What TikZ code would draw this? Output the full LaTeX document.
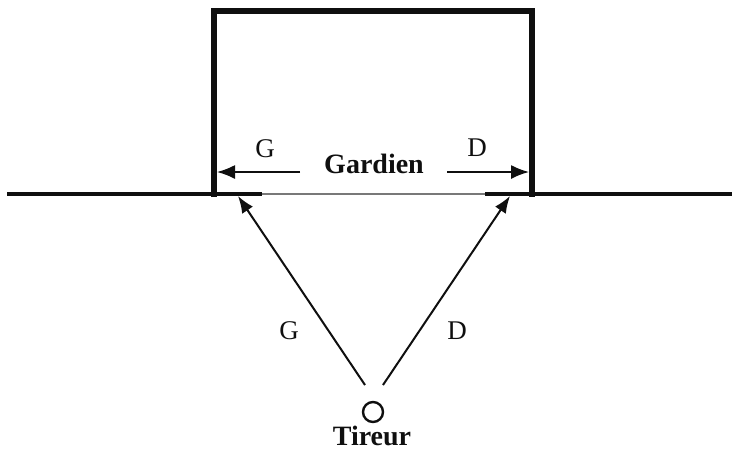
\documentclass[tikz,border=0pt]{standalone}
\usepackage{fontspec}
\setmainfont{Liberation Serif}
\usetikzlibrary{arrows.meta}
\definecolor{inkline}{RGB}{15,15,15}
\definecolor{mouthline}{RGB}{120,120,120}

\begin{document}
\begin{tikzpicture}[
  x=1pt, y=-1pt,
  font=\fontsize{27}{30}\selectfont,
  goal/.style={                             % posts and crossbar
    draw=inkline, line width=5.5pt, line cap=rect, line join=miter
  },
  ground/.style={draw=inkline, line width=3.3pt},
  mouth/.style={draw=mouthline, line width=1.3pt},
  shot/.style={
    draw=inkline, line width=2pt,
    -{Latex[length=17pt,width=13pt]}
  },
  dive/.style={
    draw=inkline, line width=1.6pt,
    -{Latex[length=18pt,width=14pt]}
  },
  lab/.style={inner sep=0pt, text=inkline},
  title/.style={inner sep=0pt, text=inkline, font=\fontsize{28}{32}\selectfont\bfseries},
  player/.style={draw=inkline, line width=2.4pt, circle, minimum size=20pt, inner sep=0pt},
]
\useasboundingbox (0,0) rectangle (732,451);

% ---- Goal and ground line ----
\coordinate (postL)  at (214,194);
\coordinate (postR)  at (532,194);
\coordinate (barL)   at (214,11);
\coordinate (barR)   at (532,11);
\coordinate (edgeL)  at (7,194);
\coordinate (edgeR)  at (732,194);
\coordinate (mouthL) at (262,194);
\coordinate (mouthR) at (485,194);

\draw[mouth]  (mouthL) -- (mouthR);
\draw[ground] (edgeL) -- (mouthL);
\draw[ground] (mouthR) -- (edgeR);
\draw[goal]   (postL) -- (barL) -- (barR) -- (postR);

% ---- Labels ----
\node (gardien) at (374,164) [title] {Gardien};
\node (gtop)    at (265,149) [lab]   {G};
\node (dtop)    at (477,148) [lab]   {D};
\node (gbot)    at (289,331) [lab]   {G};
\node (dbot)    at (457,331) [lab]   {D};

\node (tireur)  at (373,412) [player] {};
\node (tname)   at (372,445) [title, anchor=base] {Tireur};

% ---- Arrows ----
\coordinate (diveL)  at (300,172);
\coordinate (diveR)  at (447,172);
\coordinate (stopL)  at (217,172);
\coordinate (stopR)  at (529,172);
\coordinate (kickL)  at (365,385);
\coordinate (kickR)  at (383,385);
\coordinate (aimL)   at (238,196);
\coordinate (aimR)   at (510,196);

\foreach \a/\b in {diveL/stopL, diveR/stopR}
  \draw[dive] (\a) -- (\b);
\foreach \a/\b in {kickL/aimL, kickR/aimR}
  \draw[shot] (\a) -- (\b);

\end{tikzpicture}
\end{document}
